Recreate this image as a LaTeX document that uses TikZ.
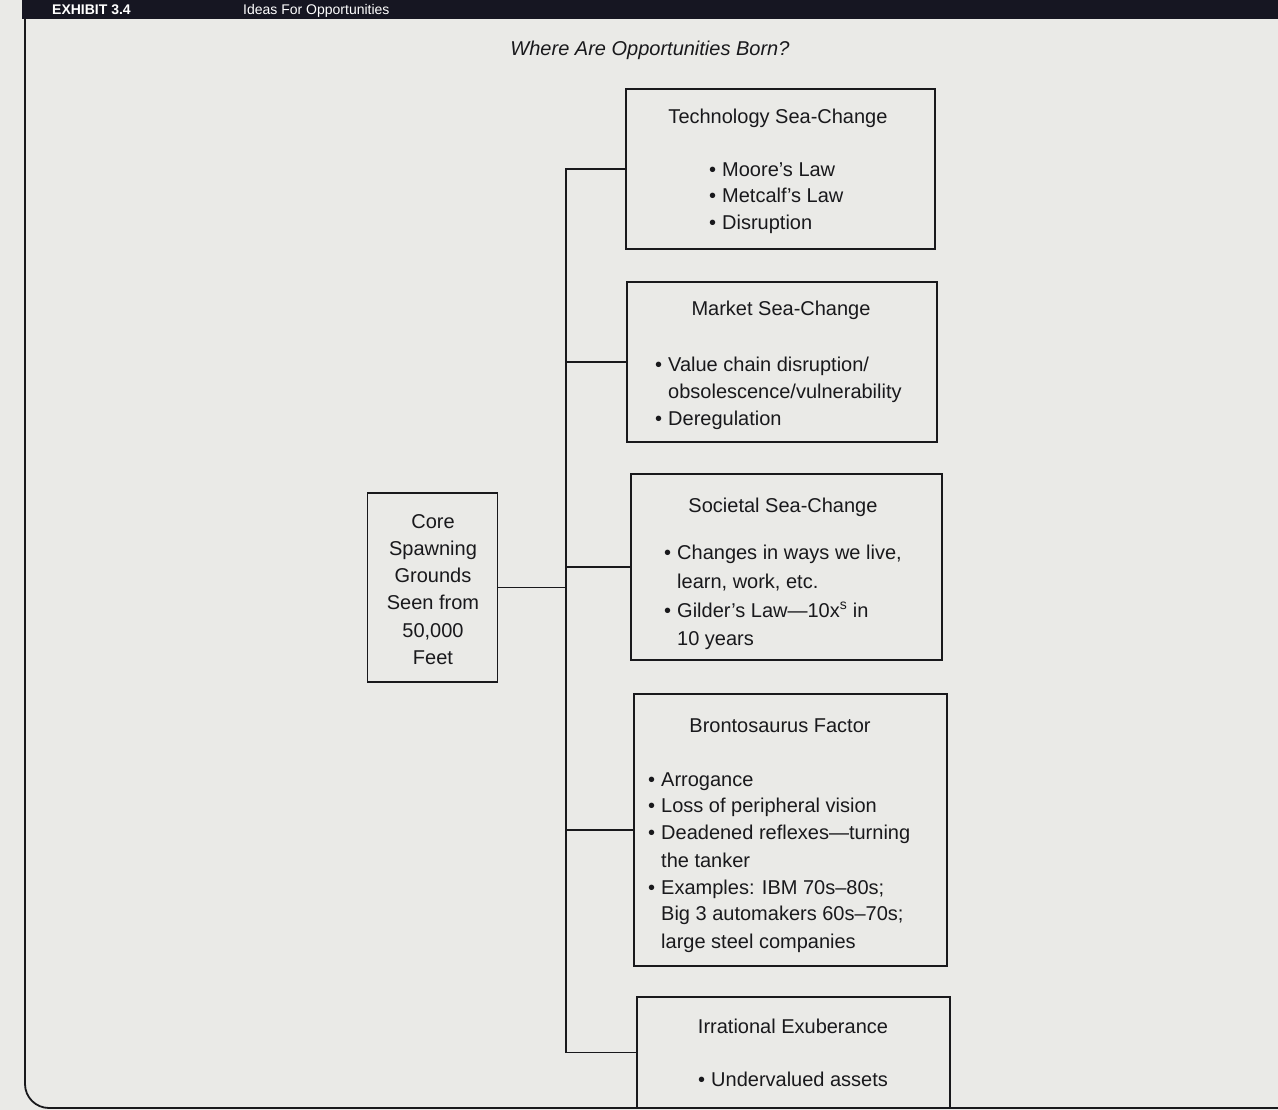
\documentclass[tikz,border=0pt]{standalone}
\usepackage{fontspec}
\setmainfont{Liberation Sans}
\definecolor{paper}{RGB}{234,234,231}
\definecolor{ink}{RGB}{25,25,28}
\definecolor{band}{RGB}{22,22,34}
\newcommand\bul{\textbullet\hspace{6pt}}
\begin{document}
\begin{tikzpicture}[x=1pt,y=-1pt,
  box/.style={draw=ink, line width=1.7pt, inner sep=0pt},
  conn/.style={draw=ink, line width=1.6pt},
  tx/.style={text=ink, inner sep=0pt, font=\fontsize{20}{27}\selectfont},
  ttl/.style={tx, anchor=base},
  lin/.style={tx, anchor=base west},
  hdr/.style={text=white, inner sep=0pt, anchor=base west}]
\useasboundingbox (0,0) rectangle (1278,1110);
\clip (0,0) rectangle (1278,1110);
\fill[paper] (0,0) rectangle (1278,1110);
% header band and frame
\fill[band] (22,0) rectangle (1278,19);
\node[hdr, font=\fontsize{14}{14}\selectfont\bfseries] (exh) at (52,15) {EXHIBIT 3.4};
\node[hdr, font=\fontsize{14}{14}\selectfont] (exht) at (243,15) {Ideas For Opportunities};
\draw[ink, line width=1.8pt, rounded corners=24pt] (25,19) -- (25,1108) -- (1300,1108);
% title
\node[tx, font=\fontsize{20}{24}\selectfont\itshape, anchor=base] (title) at (650,56) {Where Are Opportunities Born?};
% boxes
\node[box, minimum width=309pt, minimum height=160pt] (tech) at (780.5,169) {};
\node[box, minimum width=310pt, minimum height=160pt] (mkt) at (782,362) {};
\node[box, minimum width=311pt, minimum height=186pt] (soc) at (786.5,567) {};
\node[box, minimum width=313pt, minimum height=272pt] (bro) at (790.5,830) {};
\node[box, minimum width=313pt, minimum height=111pt] (irr) at (793.5,1052.5) {};
\node[box, minimum width=130pt, minimum height=189pt] (core) at (432.5,587.5) {};
% connectors
\coordinate (spine) at (566,0);
\draw[conn] (tech.west) -- (tech.west -| spine) -- (irr.west -| spine) -- (irr.west);
\draw[conn] (mkt.west) -- (mkt.west -| spine);
\draw[conn] (soc.west) -- (soc.west -| spine);
\draw[conn] (bro.west) -- (bro.west -| spine);
\draw[conn] (core.east) -- (core.east -| spine);
% core text
\node[ttl] (c1) at (433,528) {Core};
\node[ttl] (c2) at (433,555) {Spawning};
\node[ttl] (c3) at (433,582) {Grounds};
\node[ttl] (c4) at (433,609) {Seen from};
\node[ttl] (c5) at (433,637) {50,000};
\node[ttl] (c6) at (433,664) {Feet};
% technology
\node[ttl] (t0) at (778,124) {Technology Sea-Change};
\node[lin] (t1) at (709,177) {\bul Moore's Law};
\node[lin] (t2) at (709,203) {\bul Metcalf's Law};
\node[lin] (t3) at (709,230) {\bul Disruption};
% market
\node[ttl] (m0) at (781,316) {Market Sea-Change};
\node[lin] (m1) at (655,371) {\bul Value chain disruption/};
\node[lin] (m2) at (668,398) {obsolescence/vulnerability};
\node[lin] (m3) at (655,425) {\bul Deregulation};
% societal
\node[ttl] (s0) at (783,512) {Societal Sea-Change};
\node[lin] (s1) at (664,559) {\bul Changes in ways we live,};
\node[lin] (s2) at (677,588) {learn, work, etc.};
\node[lin] (s3) at (664,617) {\bul Gilder's Law---10x\textsuperscript{s} in};
\node[lin] (s4) at (677,645) {10 years};
% brontosaurus
\node[ttl] (b0) at (780,732) {Brontosaurus Factor};
\node[lin] (b1) at (648,786) {\bul Arrogance};
\node[lin] (b2) at (648,812) {\bul Loss of peripheral vision};
\node[lin] (b3) at (648,839) {\bul Deadened reflexes---turning};
\node[lin] (b4) at (661,867) {the tanker};
\node[lin] (b5) at (648,894) {\bul Examples: IBM 70s--80s;};
\node[lin] (b6) at (661,920) {Big 3 automakers 60s--70s;};
\node[lin] (b7) at (661,948) {large steel companies};
% irrational
\node[ttl] (i0) at (793,1033) {Irrational Exuberance};
\node[lin] (i1) at (698,1086) {\bul Undervalued assets};
\end{tikzpicture}
\end{document}
